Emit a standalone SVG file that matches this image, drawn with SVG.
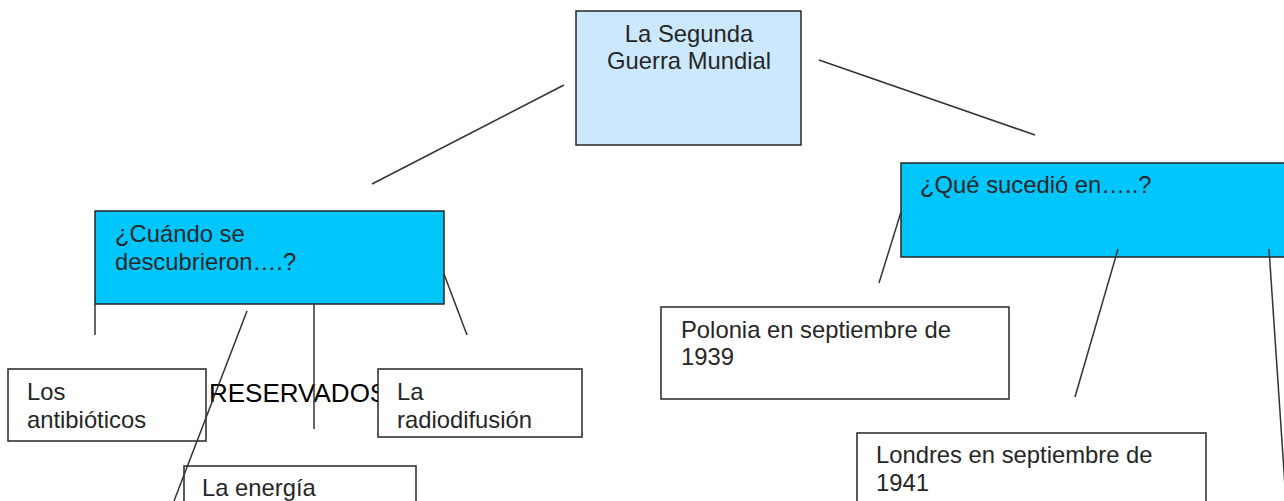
<svg xmlns="http://www.w3.org/2000/svg" width="1284" height="501" viewBox="0 0 1284 501">
<style>
  .box { stroke: #262626; stroke-width: 1.5; }
  .white { fill: #ffffff; }
  .blue { fill: #00c6fc; }
  .light { fill: #cbe8fd; }
  .t { font-family: "Liberation Sans", Arial, sans-serif; font-size: 23.8px; fill: #262626; }
  .res { font-family: "Liberation Sans", Arial, sans-serif; font-size: 26px; fill: #000000; }
  .conn line { stroke: #333333; stroke-width: 1.5; fill: none; }
</style>
<rect x="0" y="0" width="1284" height="501" fill="#ffffff"/>
<g id="node-segunda-guerra">
  <rect class="box light" x="576" y="11" width="225" height="134"/>
  <text class="t" x="689" y="42" text-anchor="middle">La Segunda</text>
  <text class="t" x="689" y="69" text-anchor="middle">Guerra Mundial</text>
</g>
<g id="node-cuando">
  <rect class="box blue" x="95" y="211" width="349" height="93"/>
  <text class="t" x="115" y="242">¿Cuándo se</text>
  <text class="t" x="115" y="270">descubrieron….?</text>
</g>
<g id="node-que">
  <rect class="box blue" x="901" y="163" width="400" height="94"/>
  <text class="t" x="920" y="193">¿Qué sucedió en…..?</text>
</g>
<g id="node-antibioticos">
  <rect class="box white" x="8" y="369" width="198" height="72"/>
  <text class="t" x="27" y="400">Los</text>
  <text class="t" x="27" y="428">antibióticos</text>
</g>
<text id="label-reservados" class="res" x="209" y="402">RESERVADOS</text>
<g id="node-radiodifusion">
  <rect class="box white" x="378" y="369" width="204" height="68"/>
  <text class="t" x="397" y="400">La</text>
  <text class="t" x="397" y="428">radiodifusión</text>
</g>
<g id="node-energia">
  <rect class="box white" x="184" y="466" width="232" height="60"/>
  <text class="t" x="202" y="496">La energía</text>
</g>
<g id="node-polonia">
  <rect class="box white" x="661" y="307" width="348" height="92"/>
  <text class="t" x="681" y="338">Polonia en septiembre de</text>
  <text class="t" x="681" y="365">1939</text>
</g>
<g id="node-londres">
  <rect class="box white" x="857" y="433" width="349" height="90"/>
  <text class="t" x="876" y="463">Londres en septiembre de</text>
  <text class="t" x="876" y="491">1941</text>
</g>
<g id="connectors" class="conn">
  <line x1="564" y1="85" x2="372" y2="184"/>
  <line x1="819" y1="60" x2="1035" y2="135"/>
  <line x1="95" y1="304" x2="95" y2="335"/>
  <line x1="247" y1="311" x2="174" y2="501"/>
  <line x1="314" y1="303" x2="314" y2="429"/>
  <line x1="444" y1="274" x2="467" y2="335"/>
  <line x1="901" y1="212" x2="879" y2="283"/>
  <line x1="1118" y1="249" x2="1075" y2="397"/>
  <line x1="1269" y1="249" x2="1286" y2="501"/>
</g>
</svg>
